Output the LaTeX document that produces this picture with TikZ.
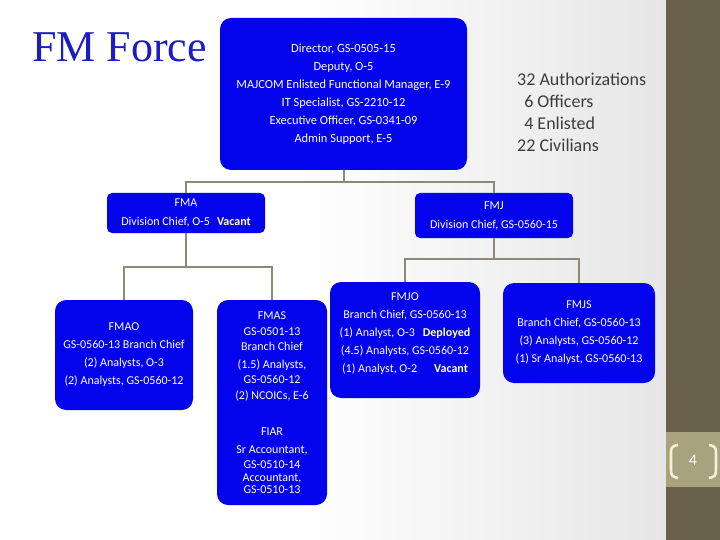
\documentclass[tikz,border=0pt]{standalone}
\usepackage{fontspec}
\setmainfont{Carlito}
\newfontfamily\titlefont{Liberation Serif}
\definecolor{boxblue}{RGB}{4,4,236}
\definecolor{titleblue}{RGB}{28,28,196}
\definecolor{linecol}{RGB}{140,138,116}
\definecolor{stripcol}{RGB}{105,97,76}
\definecolor{pagecol}{RGB}{168,162,126}
\definecolor{bracketcol}{RGB}{245,240,215}
\definecolor{vac}{RGB}{255,255,205}
\definecolor{txtgray}{RGB}{60,60,60}
\definecolor{bgright}{RGB}{230,230,230}
\tikzset{
  orgbox/.style={fill=boxblue, rounded corners=11pt, text=white, align=center,
    inner sep=0pt, font=\fontsize{12}{18}\selectfont},
  divbox/.style={orgbox, rounded corners=5pt, font=\fontsize{12}{19}\selectfont},
  conn/.style={draw=linecol, line width=2pt},
}
\newcommand{\vacant}[1]{{\color{vac}\bfseries #1}}
\begin{document}
\begin{tikzpicture}[x=1pt,y=-1pt]
\useasboundingbox (0,0) rectangle (720,540);
% background
\fill[white] (0,0) rectangle (300,540);
\fill[left color=white, right color=bgright] (299,0) rectangle (666,540);
\fill[stripcol] (666,0) rectangle (720,540);
\fill[pagecol] (666,432) rectangle (720,487);
% title
\node[anchor=base west, inner sep=0pt, font=\titlefont\fontsize{44}{44}\selectfont, text=titleblue] (title) at (32,62) {FM Force};
% authorizations
\node[anchor=north west, inner sep=0pt, align=left, text=txtgray, font=\fontsize{18}{22}\selectfont] (auth) at (517,73)
  {32 Authorizations\\\ \,6 Officers\\\ \,4 Enlisted\\22 Civilians};
% boxes
\node[orgbox, minimum width=247pt, minimum height=152pt, font=\fontsize{12.4}{18}\selectfont] (top) at (343.5,94)
  {Director, GS-0505-15\\Deputy, O-5\\MAJCOM Enlisted Functional Manager, E-9\\IT Specialist, GS-2210-12\\Executive Officer, GS-0341-09\\Admin Support, E-5};
\node[divbox, minimum width=158pt, minimum height=40pt] (fma) at (186,213)
  {FMA\\Division Chief, O-5\hspace{7pt}\vacant{Vacant}};
\node[divbox, minimum width=158pt, minimum height=45pt] (fmj) at (494,215.5)
  {FMJ\\Division Chief, GS-0560-15};
\node[orgbox, minimum width=138pt, minimum height=110pt] (fmao) at (124,355)
  {FMAO\\GS-0560-13 Branch Chief\\(2) Analysts, O-3\\(2) Analysts, GS-0560-12};
\node[orgbox, minimum width=110pt, minimum height=205pt, font=\fontsize{12}{15}\selectfont] (fmas) at (272,402.5)
  {FMAS\\[1pt]GS-0501-13\\Branch Chief\\[3pt](1.5) Analysts,\\GS-0560-12\\[1pt](2) NCOICs, E-6\\[21pt]FIAR\\[3pt]Sr Accountant,\\GS-0510-14\\[-2pt]Accountant,\\[-3pt]GS-0510-13};
\node[orgbox, minimum width=150pt, minimum height=116pt] (fmjo) at (405,340)
  {FMJO\\Branch Chief, GS-0560-13\\(1) Analyst, O-3\hspace{8pt}\vacant{Deployed}\\(4.5) Analysts, GS-0560-12\\(1) Analyst, O-2\hspace{17pt}\vacant{Vacant}\\[-4pt]\mbox{}};
\node[orgbox, minimum width=152pt, minimum height=100pt] (fmjs) at (579,333)
  {FMJS\\Branch Chief, GS-0560-13\\(3) Analysts, GS-0560-12\\(1) Sr Analyst, GS-0560-13};
% connectors
\coordinate (j1) at (343.5,182);
\coordinate (j2) at (186,267);
\coordinate (j3) at (494,259);
\draw[conn] (top.south) -- (j1);
\draw[conn] (j1) -| (fma.north);
\draw[conn] (j1) -| (fmj.north);
\draw[conn] (fma.south) -- (j2);
\draw[conn] (j2) -| (fmao.north);
\draw[conn] (j2) -| (fmas.north);
\draw[conn] (fmj.south) -- (j3);
\draw[conn] (j3) -| (fmjo.north);
\draw[conn] (j3) -| (fmjs.north);
% page number
\node[text=white, font=\fontsize{16}{16}\selectfont, inner sep=0pt] (pnum) at (693,460) {4};
\draw[bracketcol, line width=2.6pt] (678,445) .. controls (671,446) and (671,449) .. (671,453) -- (671,470) .. controls (671,475) and (672,477) .. (678,478);
\draw[bracketcol, line width=2.6pt] (709,445) .. controls (716,446) and (716,449) .. (716,453) -- (716,470) .. controls (716,475) and (715,477) .. (709,478);
\end{tikzpicture}
\end{document}
